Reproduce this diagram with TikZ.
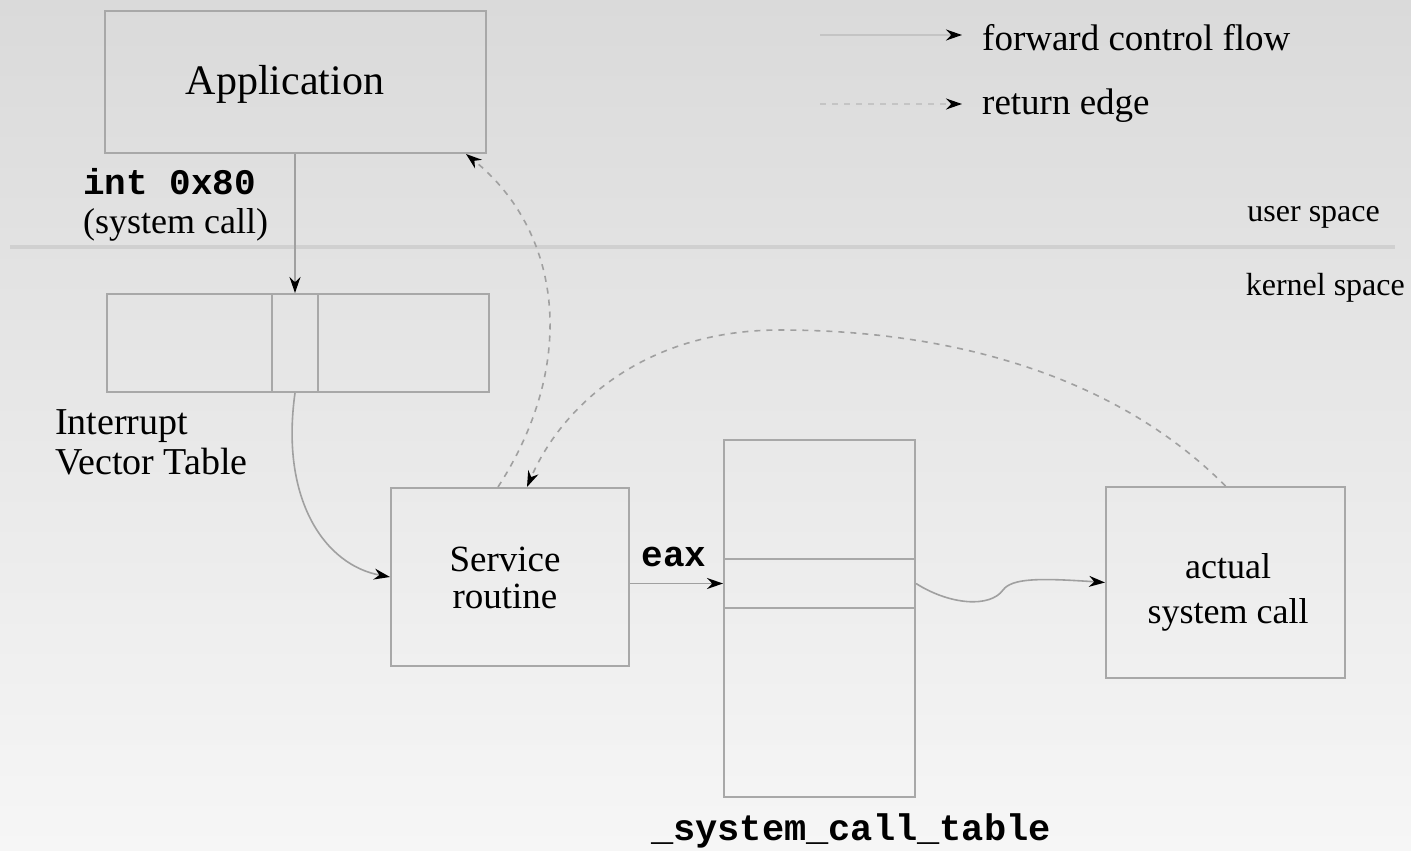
\documentclass[tikz,border=0pt]{standalone}
\usepackage{fontspec}
\setmainfont{Liberation Serif}
\setmonofont{Liberation Mono}
\usetikzlibrary{arrows.meta}
\definecolor{boxgray}{HTML}{A8A8A8}
\definecolor{linegray}{HTML}{A0A0A0}
\definecolor{leggray}{HTML}{C4C4C4}
\definecolor{sepgray}{HTML}{D0D0D0}
\definecolor{bgtop}{HTML}{DADADA}
\definecolor{bgbot}{HTML}{F6F6F6}
\begin{document}
\begin{tikzpicture}[x=1pt,y=-1pt,
  box/.style={draw=boxgray,line width=2pt,anchor=north west,inner sep=0pt},
  fwd/.style={draw=linegray,line width=1.6pt,-{Stealth[length=16pt,width=11pt,black]}},
  ret/.style={fwd,dash pattern=on 6pt off 6pt},
  lbl/.style={font=\fontsize{36}{42}\selectfont,inner sep=0pt},
  code/.style={font=\fontsize{36}{40}\selectfont\ttfamily\bfseries,inner sep=0pt}]
% background
\shade[top color=bgtop,bottom color=bgbot] (0,0) rectangle (1411,851);
\useasboundingbox (0,0) rectangle (1411,851);
% separator
\draw[sepgray,line width=4pt] (10,247) -- (1395,247);
\node[lbl,font=\fontsize{32}{36}\selectfont,anchor=east] (us) at (1380,217) {user space};
\node[lbl,font=\fontsize{32}{36}\selectfont,anchor=east] (ks) at (1405,288) {kernel space};
% legend
\coordinate (l1a) at (820,35);
\coordinate (l1b) at (962,35);
\coordinate (l2a) at (820,104);
\coordinate (l2b) at (962,104);
\draw[fwd,draw=leggray] (l1a) -- (l1b);
\draw[ret,draw=leggray] (l2a) -- (l2b);
\node[lbl,font=\fontsize{37}{42}\selectfont,anchor=west] (lg1) at (982,38) {forward control flow};
\node[lbl,font=\fontsize{37}{42}\selectfont,anchor=west] (lg2) at (982,106) {return edge};
% application
\node[box,minimum width=381pt,minimum height=142pt] (app) at (104,10) {};
\node[inner sep=0pt,font=\fontsize{42}{46}\selectfont] (appt) at (285,84) {Application};
\node[code,anchor=west] (int) at (83,182) {int 0x80};
\node[lbl,anchor=west] (sc) at (83,225) {(system call)};
% interrupt vector table
\node[box,minimum width=165pt,minimum height=98pt] (ivtA) at (106,293) {};
\node[box,minimum width=46pt,minimum height=98pt] (ivtB) at (271,293) {};
\node[box,minimum width=171pt,minimum height=98pt] (ivtC) at (317,293) {};
\node[lbl,align=left,anchor=west,font=\fontsize{38}{40}\selectfont] (ivtl) at (55,442) {Interrupt\\Vector Table};
% service routine
\node[box,minimum width=238pt,minimum height=178pt] (srv) at (390,487) {};
\node[lbl,align=center,font=\fontsize{37}{37}\selectfont] (srvt) at (505,578) {Service\\routine};
\coordinate (srvR) at (527,487);
\coordinate (srvL) at (498,487);
% system call table
\node[box,minimum width=191pt,minimum height=119pt] (tTop) at (723,439) {};
\node[box,minimum width=191pt,minimum height=49pt] (tMid) at (723,558) {};
\node[box,minimum width=191pt,minimum height=189pt] (tBot) at (723,607) {};
\node[code,font=\fontsize{37}{40}\selectfont\ttfamily\bfseries] (sct) at (851,831) {\_system\_call\_table};
\node[code] (eax) at (674,557) {eax};
% actual system call
\node[box,minimum width=239pt,minimum height=191pt] (act) at (1105,486) {};
\node[lbl,align=center,font=\fontsize{36}{45}\selectfont] (actt) at (1228,592) {actual\\system call};
% forward edges
\draw[fwd] (ivtB.north |- app.south) -- (ivtB.north);
\draw[fwd] (ivtB.south) .. controls (280,500) and (325,565) .. (srv.west);
\draw[fwd] (srv.east |- tMid.west) -- (tMid.west);
\draw[fwd] (tMid.east) .. controls (950,605) and (990,608) .. (1003,590) .. controls (1012,578) and (1040,578) .. (act.west);
% return edges
\coordinate (appR) at (466,154);
\draw[ret] (act.north) .. controls (1120,380) and (960,330) .. (780,330) .. controls (640,330) and (560,410) .. (srvR);
\draw[ret] (srvL) .. controls (580,360) and (560,230) .. (appR);
\end{tikzpicture}
\end{document}
